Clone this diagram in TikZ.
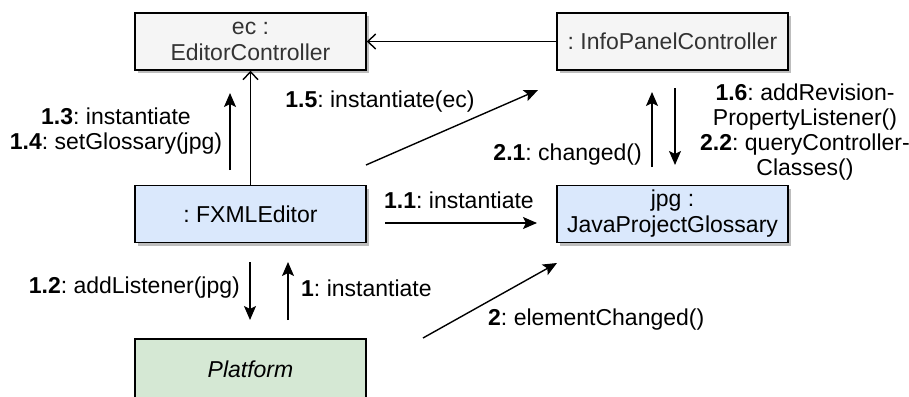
\documentclass[tikz,border=0pt]{standalone}
\usepackage{fontspec}
\setmainfont{Liberation Sans}
\usetikzlibrary{arrows.meta,shadows}
\frenchspacing
\definecolor{greyfill}{HTML}{F5F5F5}
\definecolor{greytext}{HTML}{333333}
\definecolor{bluefill}{HTML}{DAE8FC}
\definecolor{greenfill}{HTML}{D5E8D4}
\definecolor{shadowgrey}{HTML}{BDBDBD}
\tikzset{
  objbox/.style={draw=black, line width=1.4pt, minimum width=231pt, minimum height=57pt,
    inner sep=0pt, align=center, font=\fontsize{23}{26}\selectfont},
  withshadow/.style={drop shadow={shadow xshift=3pt, shadow yshift=-3pt, fill=shadowgrey, opacity=1}},
  link/.style={line width=1.4pt, -{Straight Barb[length=8pt,width=15pt,line width=1.4pt,sep=0pt]}},
  msg/.style={line width=1.4pt, -{Stealth[length=14pt,width=12pt,inset=3pt]}},
  lbl/.style={inner sep=0pt, align=center, font=\fontsize{23}{25}\selectfont},
}
\begin{document}
\begin{tikzpicture}[x=1pt,y=-1pt]
\useasboundingbox (0,0) rectangle (909,396);

% objects
\node[objbox, withshadow, fill=greyfill, text=greytext] (ec) at (250.5,41.5) {ec :\\EditorController};
\node[objbox, withshadow, fill=greyfill, text=greytext] (ipc) at (672.5,41.5) {: InfoPanelController};
\node[objbox, withshadow, fill=bluefill] (fx) at (250.5,214) {: FXMLEditor};
\node[objbox, withshadow, fill=bluefill] (jpg) at (672.5,214) {jpg :\\JavaProjectGlossary};
\node[objbox, fill=greenfill, minimum height=60pt] (pf) at (250.5,369) {\itshape Platform};

% links between objects
\draw[link] (ipc.west) -- (ec.east);
\draw[link] (fx.north) -- (ec.south);

% message endpoints
\coordinate (m13a) at (230,170);  \coordinate (m13b) at (230,93);
\coordinate (m15a) at (366,165);  \coordinate (m15b) at (538,90);
\coordinate (m11a) at (385,223);  \coordinate (m11b) at (537,223);
\coordinate (m21a) at (652,167);  \coordinate (m21b) at (652,92);
\coordinate (m22a) at (675,88);   \coordinate (m22b) at (675,165);
\coordinate (m12a) at (250,262);  \coordinate (m12b) at (250,320);
\coordinate (m1a)  at (288,320);  \coordinate (m1b)  at (288,262);
\coordinate (m2a)  at (423,338);  \coordinate (m2b)  at (557,263);

% messages
\draw[msg] (m13a) -- (m13b);
\draw[msg] (m15a) -- (m15b);
\draw[msg] (m11a) -- (m11b);
\draw[msg] (m21a) -- (m21b);
\draw[msg] (m22a) -- (m22b);
\draw[msg] (m12a) -- (m12b);
\draw[msg] (m1a) -- (m1b);
\draw[msg] (m2a) -- (m2b);

% message labels
\node[lbl] (l13) at (116,131) {\textbf{1.3}: instantiate\\\textbf{1.4}: setGlossary(jpg)};
\node[lbl] (l15) at (380,102) {\textbf{1.5}: instantiate(ec)};
\node[lbl] (l11) at (459,200) {\textbf{1.1}: instantiate};
\node[lbl, anchor=east] (l21) at (642,155) {\textbf{2.1}: changed()};
\node[lbl] (l16) at (805,132) {\textbf{1.6}: addRevision-\\PropertyListener()\\\textbf{2.2}: queryController-\\Classes()};
\node[lbl, anchor=east] (l12) at (240,288) {\textbf{1.2}: addListener(jpg)};
\node[lbl, anchor=west] (l1) at (301,288) {\textbf{1}: instantiate};
\node[lbl, anchor=west] (l2) at (488,320) {\textbf{2}: elementChanged()};
\end{tikzpicture}
\end{document}
